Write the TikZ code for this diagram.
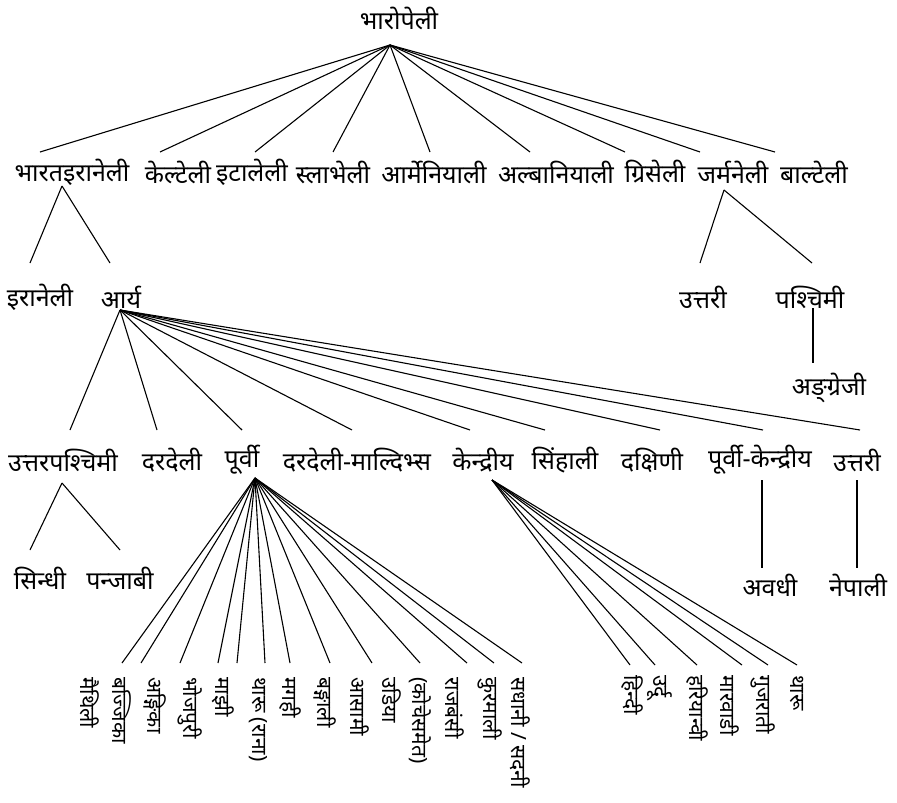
\documentclass[tikz,border=0pt]{standalone}
\usepackage{fontspec}
\newfontfamily\dev[Script=Devanagari]{Noto Sans}
\begin{document}
\begin{tikzpicture}[x=1pt,y=-1pt,
  lbl/.style={font=\dev\fontsize{25}{28}\selectfont, inner sep=0pt},
  vlbl/.style={font=\dev\fontsize{21}{24}\selectfont, inner sep=0pt, rotate=-90, anchor=west},
  edge/.style={line width=1.1pt}]
\useasboundingbox (0,0) rectangle (897,803);
% root
\node[lbl] (root) at (399,18) {भारोपेली};
\coordinate (rootB) at (390,45);
% row 1
\foreach \n/\x/\t in {ie/72/भारतइरानेली, ke/178/केल्टेली, it/252/इटालेली, sl/333/स्लाभेली, ar/434/आर्मेनियाली, al/556/अल्बानियाली, gr/655/ग्रिसेली, ge/733/जर्मनेली, ba/814/बाल्टेली}
  \node[lbl] (\n) at (\x,172) {\t};
\foreach \n/\x in {ie/40, ke/160, it/255, sl/333, ar/430, al/530, gr/625, ge/700, ba/775}{
  \coordinate (\n T) at (\x,152);
  \draw[edge] (rootB) -- (\n T);}
% Indo-Iranian
\coordinate (ieB) at (62,186);
\node[lbl] (ir) at (40,297) {इरानेली};
\node[lbl] (aa) at (121,297) {आर्य};
\coordinate (irT) at (30,263);
\coordinate (aaT) at (110,263);
\draw[edge] (ieB) -- (irT);
\draw[edge] (ieB) -- (aaT);
% Germanic
\coordinate (geB) at (724,190);
\node[lbl] (gn) at (703,297) {उत्तरी};
\node[lbl] (gw) at (810,297) {पश्चिमी};
\coordinate (gnT) at (700,263);
\coordinate (gwT) at (812,263);
\draw[edge] (geB) -- (gnT);
\draw[edge] (geB) -- (gwT);
\coordinate (gwB) at (813,308);
\node[lbl] (en) at (829,388) {अङ्ग्रेजी};
\coordinate (enT) at (813,363);
\draw[edge] (gwB) -- (enT);
% Aryan
\coordinate (aaB) at (120,310);
\foreach \n/\x/\t in {nw/63/उत्तरपश्चिमी, dd/172/दरदेली, ea/242/पूर्वी, dm/357/दरदेली-माल्दिभ्स, ce/483/केन्द्रीय, si/565/सिंहाली, so/652/दक्षिणी, ec/760/पूर्वी-केन्द्रीय, no/857/उत्तरी}
  \node[lbl] (\n) at (\x,460) {\t};
\foreach \n/\x in {nw/70, dd/157, ea/242, dm/352, ce/470, si/545, so/660, ec/763, no/860}{
  \coordinate (\n T) at (\x,430);
  \draw[edge] (aaB) -- (\n T);}
% North-western
\coordinate (nwB) at (62,483);
\node[lbl] (sd) at (40,578) {सिन्धी};
\node[lbl] (pj) at (120,578) {पन्जाबी};
\coordinate (sdT) at (30,550);
\coordinate (pjT) at (120,550);
\draw[edge] (nwB) -- (sdT);
\draw[edge] (nwB) -- (pjT);
% East-central and northern
\coordinate (ecB) at (762,480);
\coordinate (avT) at (762,568);
\node[lbl] (av) at (770,585) {अवधी};
\draw[edge] (ecB) -- (avT);
\coordinate (noB) at (857,480);
\coordinate (npT) at (857,568);
\node[lbl] (np) at (858,585) {नेपाली};
\draw[edge] (noB) -- (npT);
% Eastern
\coordinate (eaB) at (255,478);
\foreach \n/\x/\lx/\t in {e1/122/90/{मैथिली}, e2/141/122/{बज्जिका}, e3/180/155/{अङ्गिका}, e4/218/190/{भोजपुरी}, e5/237/223/{माझी}, e6/265/258/{थारू (राना)}, e7/290/290/{मगही}, e8/330/325/{बङ्गाली}, e9/372/360/{आसामी}, e10/420/392/{उडिया}, e11/467/455/{राजबंसी}, e12/494/490/{कुरमाली}, e13/522/520/{सधानी / सदनी}}{
  \coordinate (\n T) at (\x,663);
  \node[vlbl] (\n) at (\lx,677) {\t};
  \draw[edge] (eaB) -- (\n T);}
\node[vlbl] (e10b) at (420,677) {(कोचेसमेत)};
% Central
\coordinate (ceB) at (492,480);
\foreach \n/\x/\lx/\t in {c1/630/632/{हिन्दी}, c2/655/660/{उर्दू}, c3/697/697/{हरियान्वी}, c4/742/730/{मारवाडी}, c5/768/763/{गुजराती}, c6/797/797/{थारू}}{
  \coordinate (\n T) at (\x,665);
  \node[vlbl] (\n) at (\lx,675) {\t};
  \draw[edge] (ceB) -- (\n T);}
\end{tikzpicture}
\end{document}
